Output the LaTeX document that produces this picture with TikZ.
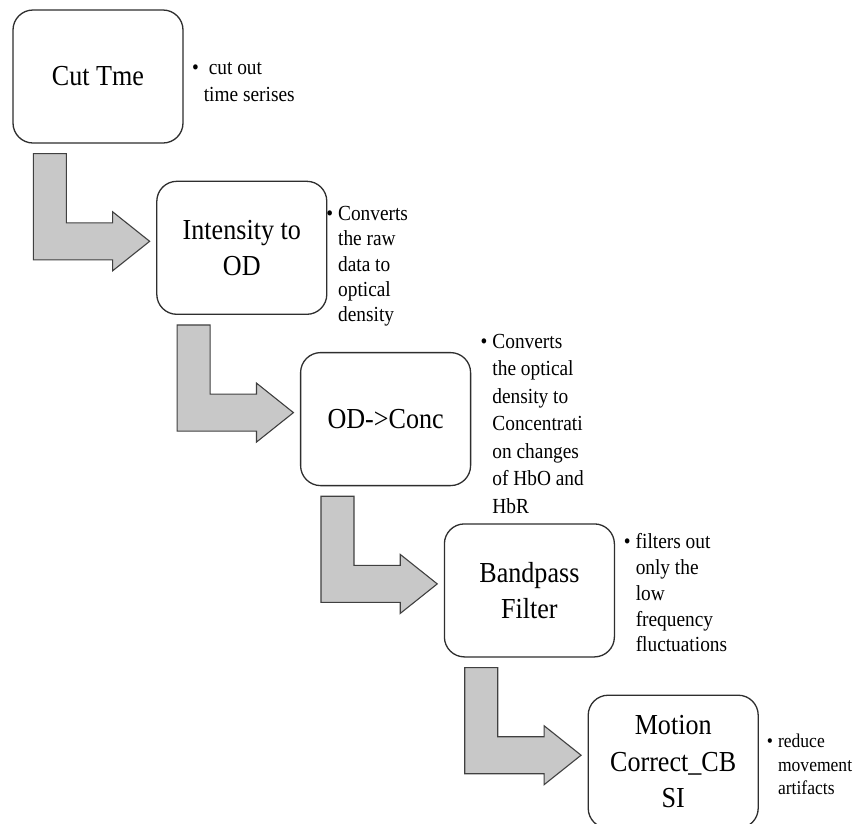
\documentclass[tikz,border=0pt]{standalone}
\usepackage{fontspec}
\setmainfont{Liberation Serif}[FakeStretch=0.9]
\usepackage{tikz}
\usetikzlibrary{positioning, calc}
\definecolor{lineA}{HTML}{2E2E2E}
\definecolor{grayA}{HTML}{C8C8C8}
\definecolor{grayB}{HTML}{404040}
\tikzset{
  stage/.style={
    draw=lineA, fill=white, rounded corners=20pt,
    line width=1.3pt, align=center, inner sep=0pt,
    minimum width=170pt, minimum height=133pt,
    font=\fontsize{29}{36.5}\selectfont
  },
  remark/.style={
    align=left, inner sep=0pt,
    font=\fontsize{21.5}{#1}\selectfont
  },
  remark/.default=25.5,
  elbow/.style={draw=grayB, fill=grayA, line width=1.1pt, line join=miter}
}
\newcommand{\bul}{\llap{\textbullet\hspace{5pt}}}
% bent arrow from the lower left of one box to the west side of the next
\newcommand{\elbowarrow}[2]{%
  \path[elbow] let \p1=(#1.south west), \p2=(#2.west) in
    (\x1+21pt,\y1-10pt) -- (\x1+54pt,\y1-10pt) -- (\x1+54pt,\y2+25pt)
    -- (\x2-43.5pt,\y2+25pt) -- (\x2-43.5pt,\y2+36pt) -- (\x2-6.5pt,\y2+6.5pt)
    -- (\x2-43.5pt,\y2-23pt) -- (\x2-43.5pt,\y2-12pt) -- (\x1+21pt,\y2-12pt) -- cycle;
}

\begin{document}
\begin{tikzpicture}[x=1pt, y=1pt, node distance=37pt and -27.5pt]
  \useasboundingbox (0,0) rectangle (854,-823);
  \node[stage] (cut) at (98,-76.5) {Cut Tme};
  \node[stage, below right=of cut] (inten) {Intensity to\\OD};
  \node[stage, below right=of inten] (conc) {OD->Conc};
  \node[stage, below right=of conc] (band) {Bandpass\\Filter};
  \node[stage, below right=of band] (motion) {Motion\\Correct\_CB\\SI};

  \node[remark=27, right=20pt of cut, yshift=-5.5pt] (cutnote)
    {\bul\hspace{5pt}cut out\\time serises};
  \node[remark=25.3, right=10.5pt of inten, yshift=-18.5pt] (intennote)
    {\bul Converts\\the raw\\data to\\optical\\density};
  \node[remark=27.5, right=21pt of conc, yshift=-4.5pt] (concnote)
    {\bul Converts\\the optical\\density to\\Concentrati\\on changes\\of HbO and\\HbR};
  \node[remark=25.8, right=20.5pt of band, yshift=-2.5pt] (bandnote)
    {\bul filters out\\only the\\low\\frequency\\fluctuations};
  \node[remark, font=\fontsize{19.5}{23.5}\selectfont, right=19pt of motion, yshift=-3pt] (motionnote)
    {\bul reduce\\movement\\artifacts};

  \elbowarrow{cut}{inten}
  \elbowarrow{inten}{conc}
  \elbowarrow{conc}{band}
  \elbowarrow{band}{motion}
\end{tikzpicture}
\end{document}
